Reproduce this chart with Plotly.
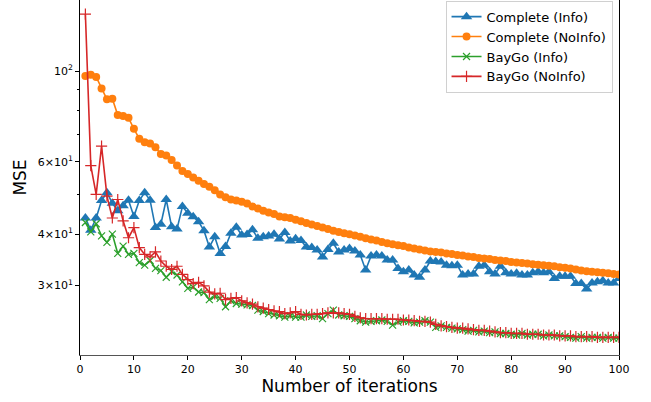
import plotly.graph_objects as go

iterations = list(range(1, 101))

complete_info = [
    43.8, 40.9, 43.8, 48.3, 50.5, 47.6, 45.6, 46.9, 48.4, 44.2,
    48.3, 50.5, 48.4, 41.5, 42.3, 48.6, 41.7, 41.2, 46.7, 45.0,
    44.1, 42.9, 40.8, 37.2, 39.4, 35.9, 37.3, 40.2, 41.6, 39.8,
    39.9, 41.0, 39.1, 39.4, 39.6, 40.0, 38.9, 40.4, 38.5, 39.0,
    38.6, 37.2, 37.1, 36.6, 35.2, 36.7, 38.0, 36.2, 36.6, 36.9,
    36.4, 35.6, 32.7, 35.4, 35.6, 35.4, 34.6, 34.6, 33.0, 32.4,
    32.7, 31.8, 31.4, 32.7, 34.4, 34.3, 34.2, 33.6, 33.5, 33.6,
    31.8, 32.0, 32.0, 33.4, 33.6, 32.4, 32.0, 33.4, 32.2, 32.0,
    32.1, 31.8, 31.8, 32.2, 32.4, 32.2, 32.4, 31.2, 31.6, 31.6,
    31.6, 30.3, 30.3, 29.4, 30.4, 30.6, 30.8, 30.4, 30.4, 31.2,
]

complete_noinfo = [
    97.2, 97.9, 96.7, 90.7, 85.3, 85.6, 78.1, 77.7, 76.9, 72.3,
    68.4, 67.0, 66.6, 65.2, 62.7, 62.2, 60.7, 58.8, 57.0, 56.1,
    55.0, 54.0, 53.0, 52.2, 51.2, 50.0, 49.2, 48.6, 48.3, 48.0,
    47.5, 46.7, 46.2, 45.6, 45.2, 44.8, 44.2, 44.0, 43.8, 43.4,
    43.0, 42.6, 42.2, 41.9, 41.5, 41.2, 40.8, 40.5, 40.2, 40.0,
    39.7, 39.4, 39.1, 38.8, 38.6, 38.3, 38.0, 37.8, 37.6, 37.4,
    37.1, 36.9, 36.7, 36.5, 36.3, 36.2, 36.1, 35.9, 35.8, 35.6,
    35.5, 35.3, 35.2, 35.0, 34.9, 34.8, 34.6, 34.5, 34.4, 34.2,
    34.1, 34.0, 33.9, 33.8, 33.7, 33.6, 33.5, 33.4, 33.2, 33.1,
    33.0, 32.8, 32.6, 32.5, 32.4, 32.3, 32.2, 32.1, 32.0, 31.9,
]

baygo_info = [
    42.7, 40.5, 42.4, 39.6, 38.2, 40.0, 35.9, 37.4, 35.7, 35.9,
    34.1, 33.6, 34.5, 33.0, 32.6, 31.4, 32.4, 31.8, 30.6, 29.5,
    29.7, 28.9, 28.8, 27.7, 28.2, 27.9, 26.6, 27.5, 27.1, 27.0,
    26.9, 26.8, 26.1, 25.9, 25.6, 25.4, 25.3, 25.1, 25.3, 25.1,
    25.1, 25.4, 25.2, 25.3, 24.9, 25.6, 26.1, 25.4, 25.3, 25.2,
    24.9, 24.6, 24.4, 24.5, 24.6, 24.7, 24.5, 24.0, 24.4, 24.6,
    24.5, 24.3, 24.4, 24.6, 24.4, 23.7, 23.9, 23.7, 23.6, 23.5,
    23.4, 23.2, 23.3, 23.1, 23.2, 23.0, 23.1, 22.9, 22.9, 22.8,
    22.7, 22.9, 22.7, 22.8, 22.8, 22.6, 22.7, 22.6, 22.6, 22.5,
    22.4, 22.3, 22.5, 22.3, 22.4, 22.4, 22.3, 22.4, 22.3, 22.3,
]

baygo_noinfo = [
    137.7, 58.8, 50.0, 65.6, 49.5, 43.8, 48.6, 43.1, 39.2, 41.5,
    37.1, 35.7, 35.2, 36.2, 34.4, 33.4, 32.8, 33.4, 31.9, 31.0,
    30.3, 30.5, 29.9, 28.9, 28.6, 28.7, 27.7, 27.9, 28.0, 27.5,
    27.2, 27.0, 26.6, 26.4, 26.2, 26.0, 25.9, 25.6, 25.7, 25.9,
    25.5, 25.4, 25.5, 25.5, 25.6, 25.7, 25.7, 25.7, 25.6, 25.5,
    25.2, 25.0, 24.9, 24.9, 24.9, 24.9, 24.8, 24.8, 24.8, 24.7,
    24.7, 24.6, 24.5, 24.5, 24.4, 24.1, 23.9, 23.8, 23.7, 23.6,
    23.6, 23.5, 23.4, 23.3, 23.3, 23.2, 23.1, 23.0, 23.0, 22.9,
    22.9, 22.9, 22.8, 22.8, 22.8, 22.7, 22.7, 22.7, 22.6, 22.6,
    22.6, 22.5, 22.5, 22.5, 22.5, 22.4, 22.4, 22.4, 22.4, 22.4,
]

series_names = ["Complete (Info)", "Complete (NoInfo)", "BayGo (Info)", "BayGo (NoInfo)"]
x_ticks = [0, 10, 20, 30, 40, 50, 60, 70, 80, 90, 100]
y_major = [30, 40, 60, 100]
y_major_text = ["3×10<sup>1</sup>", "4×10<sup>1</sup>", "6×10<sup>1</sup>", "10<sup>2</sup>"]
y_minor = [50, 70, 80, 90]

colors = ["#1f77b4", "#ff7f0e", "#2ca02c", "#d62728"]
fig = go.Figure()
fig.add_trace(go.Scatter(x=iterations, y=complete_info, name=series_names[0], mode="lines+markers",
                         line=dict(color=colors[0], width=1.6),
                         marker=dict(symbol="triangle-up", size=10, color=colors[0])))
fig.add_trace(go.Scatter(x=iterations, y=complete_noinfo, name=series_names[1], mode="lines+markers",
                         line=dict(color=colors[1], width=1.6),
                         marker=dict(symbol="circle", size=8, color=colors[1])))
fig.add_trace(go.Scatter(x=iterations, y=baygo_info, name=series_names[2], mode="lines+markers",
                         line=dict(color=colors[2], width=1.6),
                         marker=dict(symbol="x-thin", size=7, color=colors[2],
                                     line=dict(color=colors[2], width=1.2))))
fig.add_trace(go.Scatter(x=iterations, y=baygo_noinfo, name=series_names[3], mode="lines+markers",
                         line=dict(color=colors[3], width=1.6),
                         marker=dict(symbol="cross-thin", size=8, color=colors[3],
                                     line=dict(color=colors[3], width=1.2))))

fig.update_layout(
    width=651, height=402,
    margin=dict(l=80, r=32, t=0, b=47),
    plot_bgcolor="white", paper_bgcolor="white",
    font=dict(family="DejaVu Sans", color="#000"),
    showlegend=True,
    legend=dict(x=0.988, y=0.998, xanchor="right", yanchor="top",
                bgcolor="rgba(255,255,255,0.8)", bordercolor="#d0d0d0", borderwidth=1,
                font=dict(size=13, family="DejaVu Sans"), tracegroupgap=0),
    xaxis=dict(range=[0, 100], tickmode="array", tickvals=x_ticks, automargin=False,
               showgrid=False, zeroline=False, showline=True, linecolor="#555", linewidth=1,
               ticks="outside", ticklen=4, tickcolor="#000",
               tickfont=dict(size=11), title=dict(text="Number of iterations", font=dict(size=17), standoff=4)),
    yaxis=dict(type="log", range=[1.3073, 2.1732], tickmode="array", tickvals=y_major, ticktext=y_major_text,
               automargin=False,
               showgrid=False, zeroline=False, showline=True, linecolor="#000", linewidth=1, mirror=True,
               ticks="outside", ticklen=4, tickcolor="#000",
               minor=dict(tickmode="array", tickvals=y_minor, ticklen=2.5, ticks="outside", tickcolor="#000", showgrid=False),
               tickfont=dict(size=11), title=dict(text="MSE", font=dict(size=17), standoff=6)),
)

fig.write_html("out.html", config={"displayModeBar": False},
               post_script="document.body.style.margin='0';document.body.style.overflow='hidden';")
